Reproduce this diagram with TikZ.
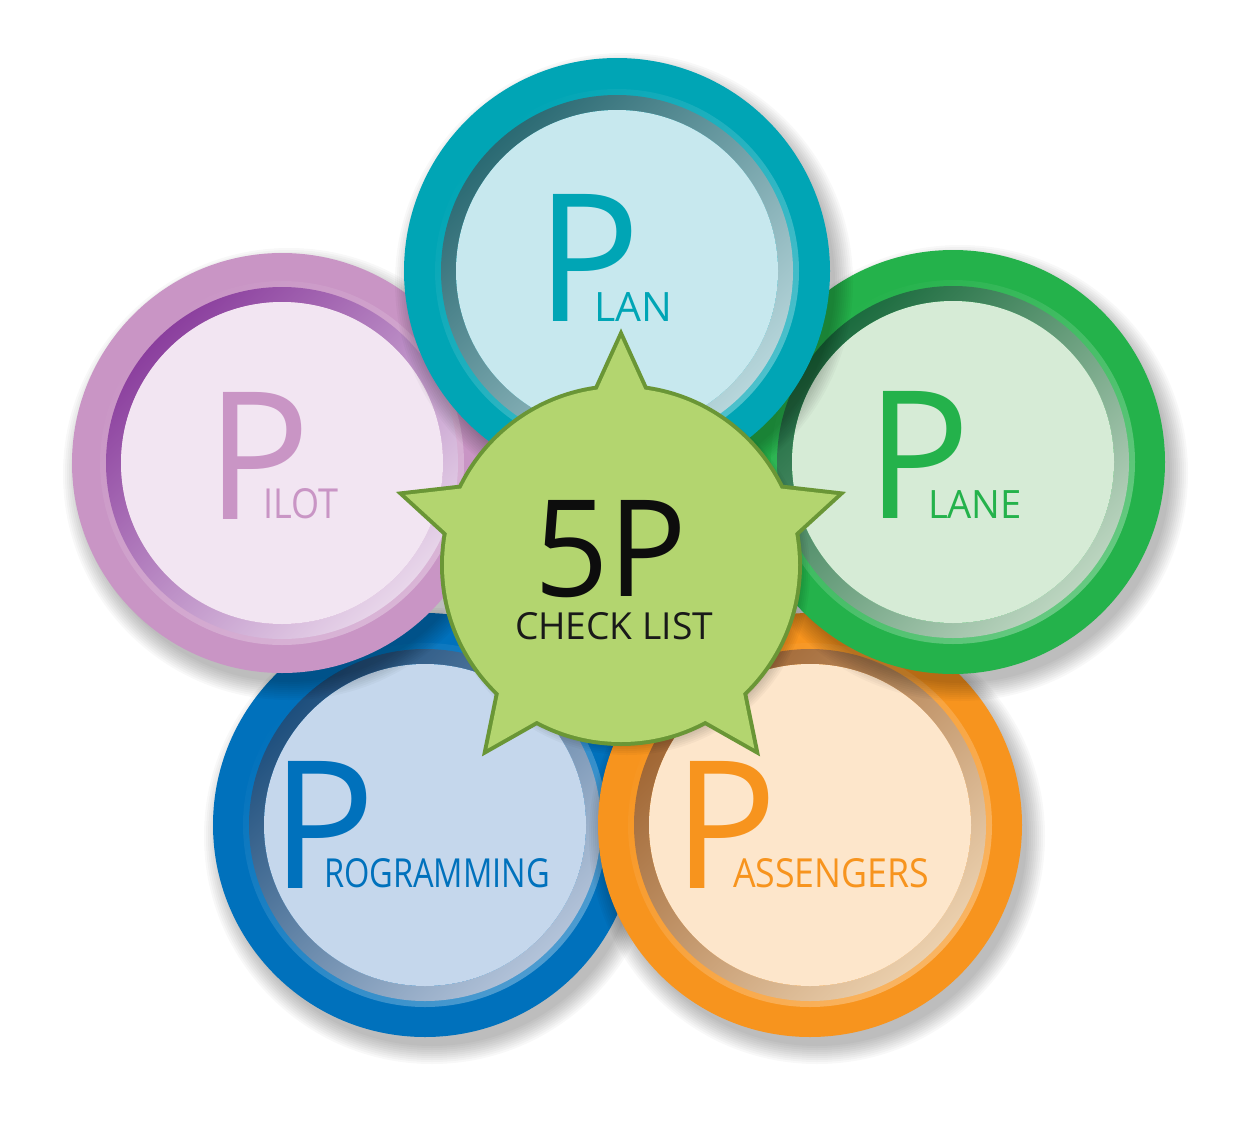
\documentclass[tikz,border=0pt]{standalone}
\usepackage{fontspec}
\setmainfont{Open Sans}
\usepackage{graphicx}
\definecolor{planRing}{HTML}{00A5B5}
\definecolor{planRimD}{HTML}{2B6A73}
\definecolor{planRimL}{HTML}{B7D6DB}
\definecolor{planIn}{HTML}{C7E8EE}
\definecolor{planeRing}{HTML}{24B24B}
\definecolor{planeRimD}{HTML}{1B6B3E}
\definecolor{planeRimL}{HTML}{BCD5C0}
\definecolor{planeIn}{HTML}{D6EBD6}
\definecolor{pilotRing}{HTML}{C995C5}
\definecolor{pilotRimD}{HTML}{8B3F9E}
\definecolor{pilotRimL}{HTML}{E8D6EA}
\definecolor{pilotIn}{HTML}{F2E5F2}
\definecolor{progRing}{HTML}{0071BC}
\definecolor{progRimD}{HTML}{1E4F7D}
\definecolor{progRimL}{HTML}{B3C3D9}
\definecolor{progIn}{HTML}{C5D7EC}
\definecolor{passRing}{HTML}{F7941E}
\definecolor{passRimD}{HTML}{9E6330}
\definecolor{passRimL}{HTML}{EBD0AE}
\definecolor{passIn}{HTML}{FDE6CB}
\definecolor{starFill}{HTML}{B3D56F}
\definecolor{starLine}{HTML}{6A9636}
\newcommand\bubble[4]{%
  \foreach \k in {0,...,9}{\fill[black,opacity=0.028] (#1+7,#2+11) circle[radius=#3+16-2*\k];}
  \fill[#4Ring] (#1,#2) circle[radius=#3];
  \shade[even odd rule, top color=#4Ring, bottom color=white!30!#4Ring, shading angle=45]
    (#1,#2) circle[radius=182] (#1,#2) circle[radius=175];
  \shade[even odd rule, top color=#4RimD, bottom color=#4RimL, shading angle=45]
    (#1,#2) circle[radius=176] (#1,#2) circle[radius=161];
  \fill[#4In] (#1,#2) circle[radius=161];
}
% big letter whose box covers only its stem, so the word can sit under its bowl
\newcommand\bigP{\makebox[38pt][l]{\resizebox{104pt}{127pt}{P}}}
\tikzset{ptext/.style={anchor=base west, inner sep=0pt, outer sep=0pt}}
\begin{document}
\begin{tikzpicture}[x=1pt,y=-1pt]
\useasboundingbox (0,0) rectangle (1237,1127);
\fill[white] (0,0) rectangle (1237,1127);
% bubbles, back to front
\bubble{425}{825}{212}{prog}
\node[ptext, text=progRing] (progP) at (271,888) {\bigP};
\node[ptext, text=progRing] (progT) at (324,887) {\resizebox{226pt}{29pt}{ROGRAMMING}};
\bubble{810}{825}{212}{pass}
\node[ptext, text=passRing] (passP) at (673,888) {\bigP};
\node[ptext, text=passRing] (passT) at (733,887) {\resizebox{196pt}{29pt}{ASSENGERS}};
\bubble{282}{463}{210}{pilot}
\node[ptext, text=pilotRing] (pilotP) at (206,519) {\bigP};
\node[ptext, text=pilotRing] (pilotT) at (263,518) {\resizebox{75pt}{30pt}{ILOT}};
\bubble{953}{462}{212}{plane}
\node[ptext, text=planeRing] (planeP) at (866,518) {\bigP};
\node[ptext, text=planeRing] (planeT) at (928,518) {\resizebox{94pt}{28pt}{LANE}};
\bubble{617}{271}{213}{plan}
\node[ptext, text=planRing] (planP) at (536,321) {\bigP};
\node[ptext, text=planRing] (planT) at (594,321) {\resizebox{78pt}{29pt}{LAN}};
% star
\coordinate (starC) at (621,565);
\foreach \k in {0,...,5}{
  \fill[black,opacity=0.03] (627,572) circle[radius=183-2*\k];
}
\def\starpath{(621,338) -- (557.5,477.6) -- (405.1,494.9) -- (518.3,598.4) -- (487.6,748.6) -- (621,673) -- (754.4,748.6) -- (723.7,598.4) -- (836.9,494.9) -- (684.5,477.6) -- cycle}
\draw[starLine, line width=8pt, line join=miter, miter limit=20] \starpath;
\draw[starLine, line width=8pt] (starC) circle[radius=177];
\fill[starFill] \starpath;
\fill[starFill] (starC) circle[radius=177];
\node[ptext, text=black!95] (fiveP) at (534,596) {\resizebox{153pt}{96pt}{5P}};
\node[ptext, text=black!90] (check) at (515,639) {\resizebox{198pt}{27pt}{CHECK LIST}};
\end{tikzpicture}
\end{document}
